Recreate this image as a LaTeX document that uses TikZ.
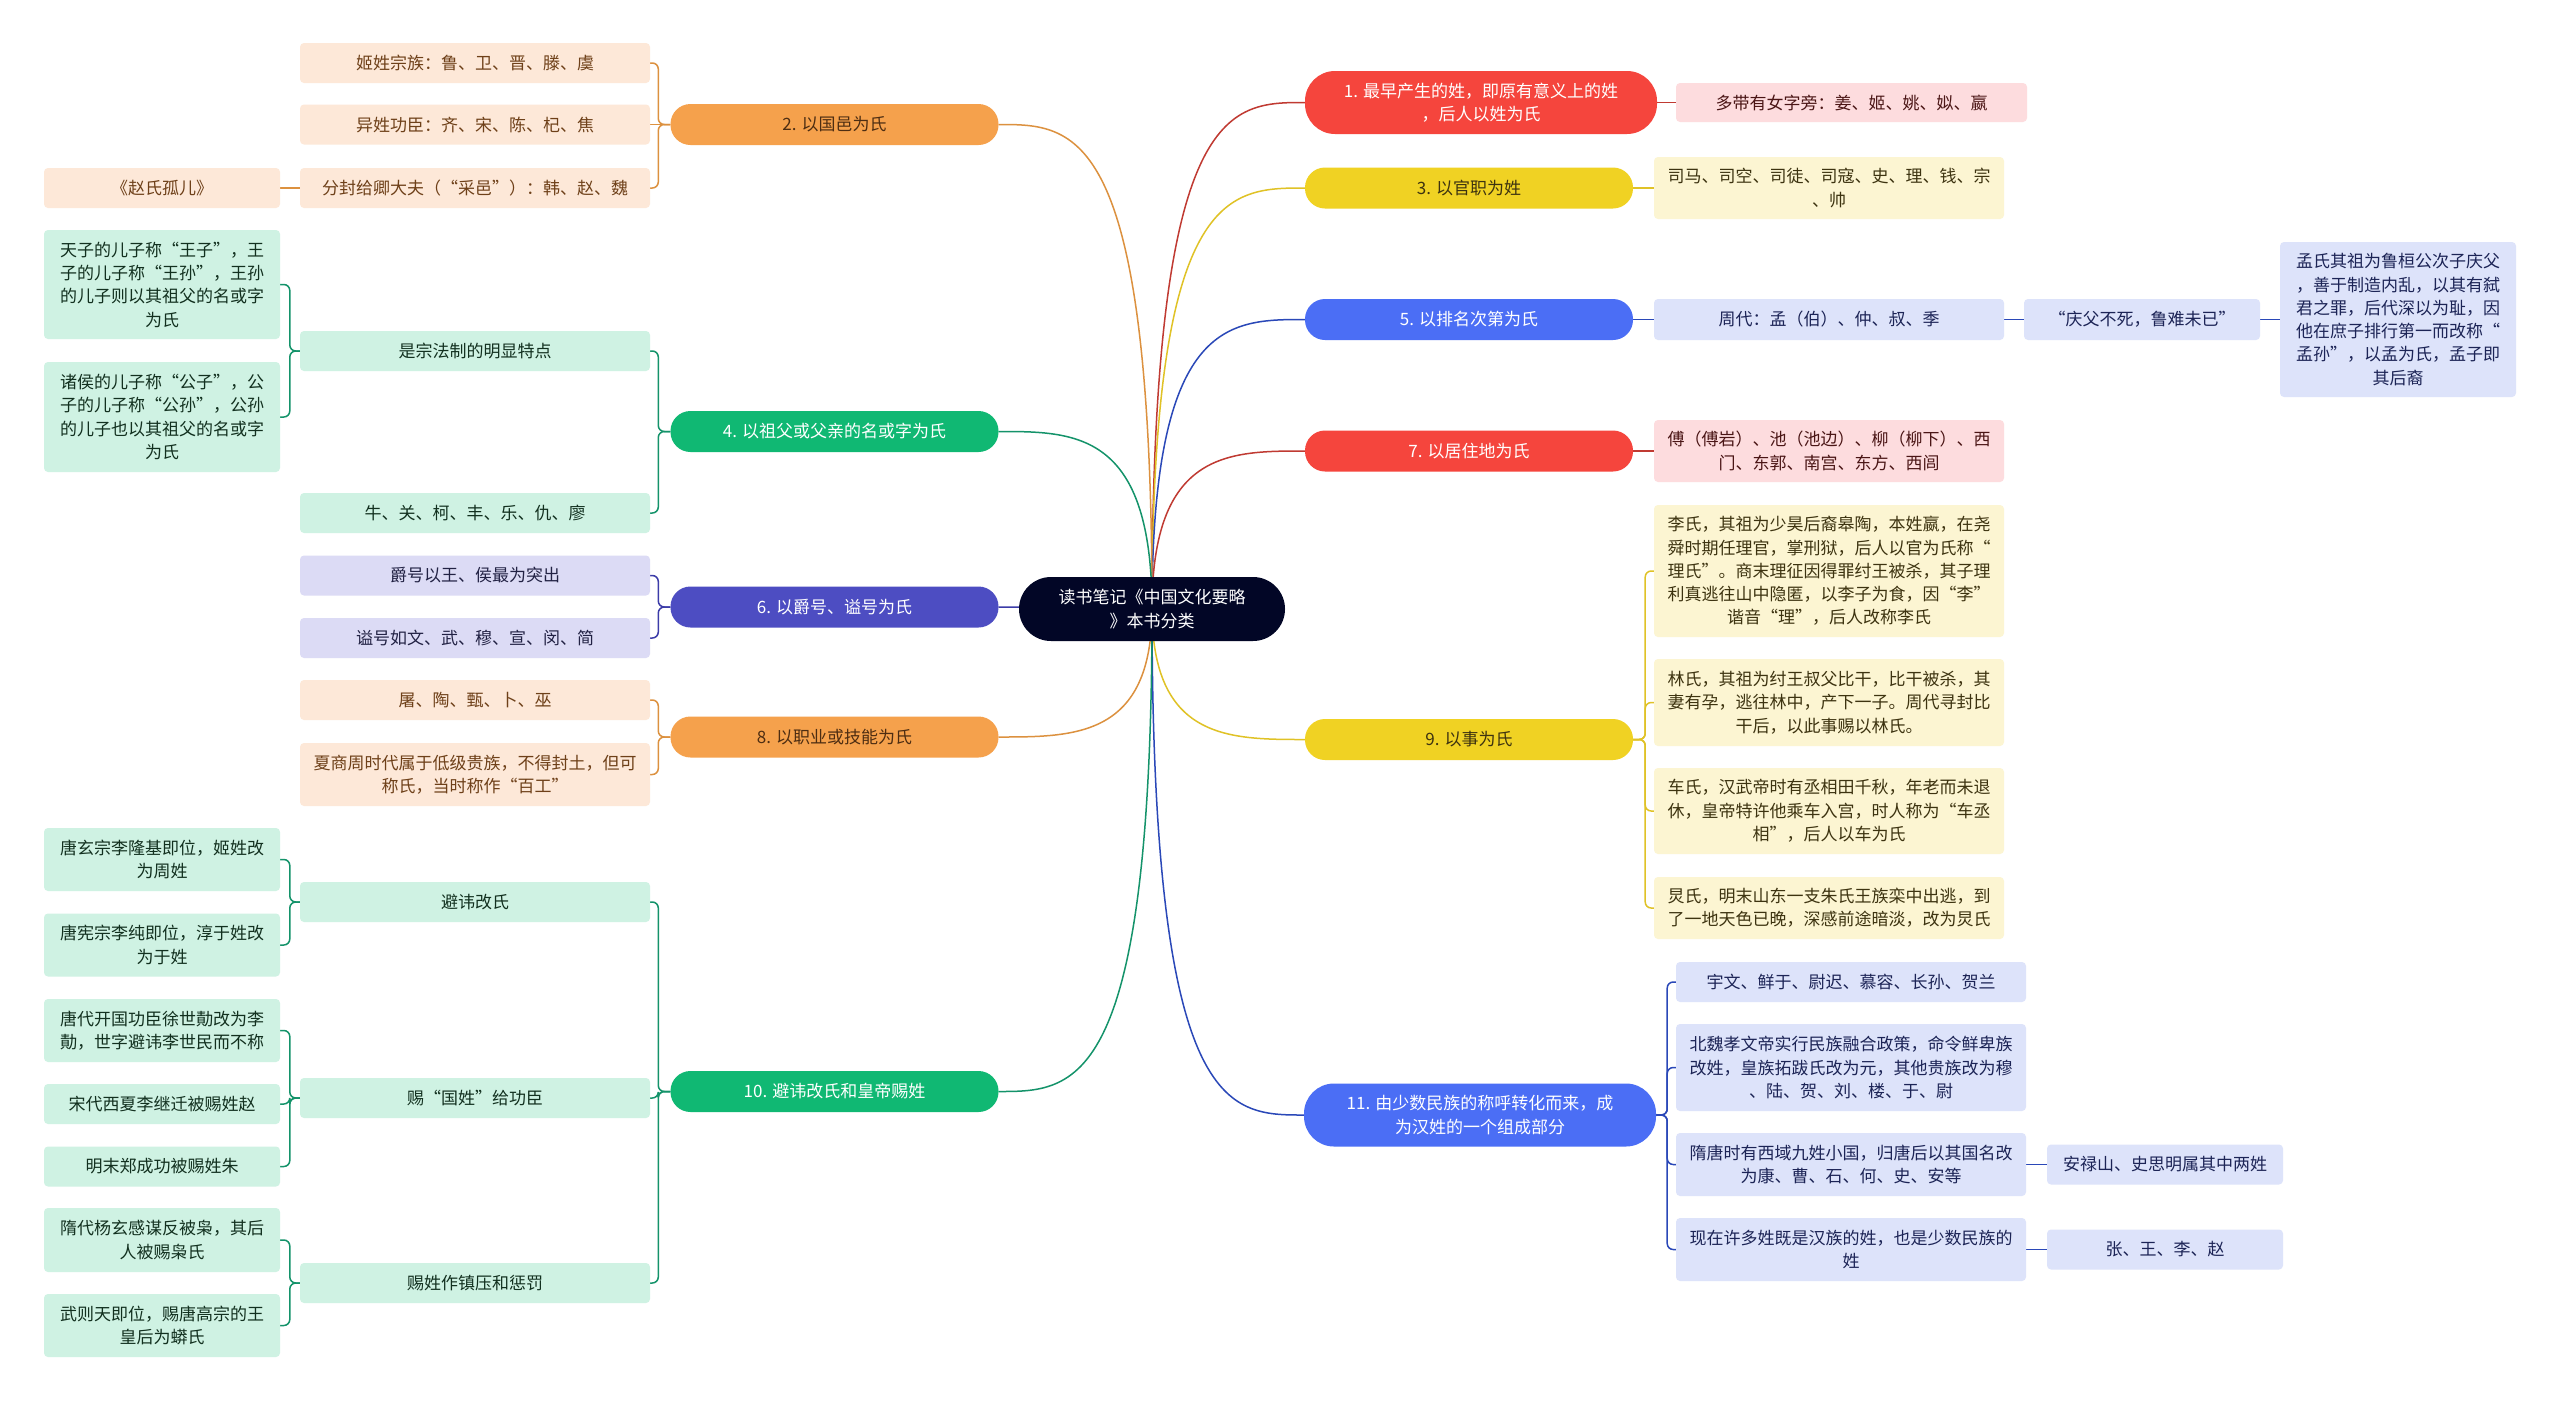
\documentclass[tikz,border=0pt]{standalone}
\usepackage{fontspec}
\setmainfont{Noto Sans CJK SC}
\usetikzlibrary{calc,backgrounds}
\newcommand\fs{\fontsize{17}{23.3}\selectfont}
\definecolor{rootc}{HTML}{020626}
\definecolor{redc}{HTML}{F5453D}\definecolor{redl}{HTML}{FDDCDE}\definecolor{redt}{HTML}{4A1515}\definecolor{redln}{HTML}{C03A32}
\definecolor{yelc}{HTML}{F0D223}\definecolor{yell}{HTML}{FCF5D2}\definecolor{yelt}{HTML}{3D3310}\definecolor{yelln}{HTML}{E0C226}
\definecolor{bluc}{HTML}{4B6EF5}\definecolor{blul}{HTML}{DDE3FA}\definecolor{blut}{HTML}{1C2456}\definecolor{bluln}{HTML}{2A48B8}
\definecolor{orac}{HTML}{F5A14C}\definecolor{oral}{HTML}{FDE8D8}\definecolor{orat}{HTML}{6E4019}\definecolor{oraln}{HTML}{DC913F}
\definecolor{grec}{HTML}{10B873}\definecolor{grel}{HTML}{CFF2E3}\definecolor{gret}{HTML}{12301F}\definecolor{greln}{HTML}{14936A}
\definecolor{indc}{HTML}{4D4DC2}\definecolor{indl}{HTML}{DCDBF5}\definecolor{indt}{HTML}{222244}\definecolor{indln}{HTML}{3C3CA8}
\newcommand\rcurve[3]{\draw[#1, line width=1.5pt] (root.center) .. controls (root.center |- #2.#3) and ($(root.center |- #2.#3)!0.5!(#2.#3)$) .. (#2.#3);}
\newcommand\bR[4]{\draw[#1, line width=1.5pt, rounded corners=6pt] (#2.east) -- ++(#4,0) |- (#3.west);}
\newcommand\bL[4]{\draw[#1, line width=1.5pt, rounded corners=6pt] (#2.west) -- ++(-#4,0) |- (#3.east);}
\newcommand\sR[3]{\draw[#1, line width=1.5pt] (#2.east) -- (#3.west);}
\newcommand\sL[3]{\draw[#1, line width=1.5pt] (#2.west) -- (#3.east);}
\begin{document}
\begin{tikzpicture}[x=1pt,y=-1pt,
  every node/.style={inner sep=0pt, align=center, font=\fs},
  lone/.style={rounded corners=20pt, minimum width=328pt, minimum height=41pt},
  lonew/.style={rounded corners=30pt, minimum width=352pt, minimum height=63pt},
  bx/.style={rounded corners=4pt, minimum width=350pt},
  sbx/.style={rounded corners=4pt, minimum width=236pt},
  ]
\useasboundingbox (0,0) rectangle (2560,1401);

% root
\node[fill=rootc, text=white, rounded corners=32pt, minimum width=266pt, minimum height=64pt] (root) at (1152,609) {读书笔记《中国文化要略\\》本书分类};

% right level 1
\node[lonew, fill=redc, text=white] (n1) at (1481,102.5) {1. 最早产生的姓，即原有意义上的姓\\，后人以姓为氏};
\node[lone, fill=yelc, text=yelt] (n3) at (1469,188) {3. 以官职为姓};
\node[lone, fill=bluc, text=white] (n5) at (1469,319.5) {5. 以排名次第为氏};
\node[lone, fill=redc, text=white] (n7) at (1469,451) {7. 以居住地为氏};
\node[lone, fill=yelc, text=yelt] (n9) at (1469,739.5) {9. 以事为氏};
\node[lonew, fill=bluc, text=white] (n11) at (1480,1115) {11. 由少数民族的称呼转化而来，成\\为汉姓的一个组成部分};

% left level 1
\node[lone, fill=orac, text=orat!70!black] (n2) at (834.5,124.5) {2. 以国邑为氏};
\node[lone, fill=grec, text=white] (n4) at (834.5,431.5) {4. 以祖父或父亲的名或字为氏};
\node[lone, fill=indc, text=white] (n6) at (834.5,607) {6. 以爵号、谥号为氏};
\node[lone, fill=orac, text=orat!70!black] (n8) at (834.5,737) {8. 以职业或技能为氏};
\node[lone, fill=grec, text=white] (n10) at (834.5,1091.5) {10. 避讳改氏和皇帝赐姓};

% right level 2
\node[bx, fill=redl, text=redt, minimum width=351pt, minimum height=39pt] (r1) at (1851.5,102.5) {多带有女字旁：姜、姬、姚、姒、嬴};
\node[bx, fill=yell, text=yelt, minimum height=62pt] (r3) at (1829,188) {司马、司空、司徒、司寇、史、理、钱、宗\\、帅};
\node[bx, fill=blul, text=blut, minimum height=41pt] (r5) at (1829,319.5) {周代：孟（伯）、仲、叔、季};
\node[sbx, fill=blul, text=blut, minimum height=41pt] (r5b) at (2142,319.5) {“庆父不死，鲁难未已”};
\node[sbx, fill=blul, text=blut, minimum height=155pt] (r5c) at (2398,319.5) {孟氏其祖为鲁桓公次子庆父\\，善于制造内乱，以其有弑\\君之罪，后代深以为耻，因\\他在庶子排行第一而改称“\\孟孙”，以孟为氏，孟子即\\其后裔};
\node[bx, fill=redl, text=redt, minimum height=62pt] (r7) at (1829,451) {傅（傅岩）、池（池边）、柳（柳下）、西\\门、东郭、南宫、东方、西闾};
\node[bx, fill=yell, text=yelt, minimum height=132pt] (r9a) at (1829,571) {李氏，其祖为少昊后裔皋陶，本姓嬴，在尧\\舜时期任理官，掌刑狱，后人以官为氏称“\\理氏”。商末理征因得罪纣王被杀，其子理\\利真逃往山中隐匿，以李子为食，因“李”\\谐音“理”，后人改称李氏};
\node[bx, fill=yell, text=yelt, minimum height=87pt] (r9b) at (1829,702.5) {林氏，其祖为纣王叔父比干，比干被杀，其\\妻有孕，逃往林中，产下一子。周代寻封比\\干后，以此事赐以林氏。};
\node[bx, fill=yell, text=yelt, minimum height=86pt] (r9c) at (1829,811) {车氏，汉武帝时有丞相田千秋，年老而未退\\休，皇帝特许他乘车入宫，时人称为“车丞\\相”，后人以车为氏};
\node[bx, fill=yell, text=yelt, minimum height=62pt] (r9d) at (1829,908) {炅氏，明末山东一支朱氏王族栾中出逃，到\\了一地天色已晚，深感前途暗淡，改为炅氏};
\node[bx, fill=blul, text=blut, minimum height=40pt] (r11a) at (1851,982) {宇文、鲜于、尉迟、慕容、长孙、贺兰};
\node[bx, fill=blul, text=blut, minimum height=87pt] (r11b) at (1851,1067.5) {北魏孝文帝实行民族融合政策，命令鲜卑族\\改姓，皇族拓跋氏改为元，其他贵族改为穆\\、陆、贺、刘、楼、于、尉};
\node[bx, fill=blul, text=blut, minimum height=63pt] (r11c) at (1851,1164.5) {隋唐时有西域九姓小国，归唐后以其国名改\\为康、曹、石、何、史、安等};
\node[sbx, fill=blul, text=blut, minimum height=40pt] (r11c1) at (2165,1164.5) {安禄山、史思明属其中两姓};
\node[bx, fill=blul, text=blut, minimum height=63pt] (r11d) at (1851,1249.5) {现在许多姓既是汉族的姓，也是少数民族的\\姓};
\node[sbx, fill=blul, text=blut, minimum height=40pt] (r11d1) at (2165,1249.5) {张、王、李、赵};

% left level 2 / 3
\node[bx, fill=oral, text=orat, minimum height=40pt] (l2a) at (475,63) {姬姓宗族：鲁、卫、晋、滕、虞};
\node[bx, fill=oral, text=orat, minimum height=40pt] (l2b) at (475,124.5) {异姓功臣：齐、宋、陈、杞、焦};
\node[bx, fill=oral, text=orat, minimum height=40pt] (l2c) at (475,188) {分封给卿大夫（“采邑”）：韩、赵、魏};
\node[sbx, fill=oral, text=orat, minimum height=40pt] (l2c1) at (162,188) {《赵氏孤儿》};

\node[bx, fill=grel, text=gret, minimum height=40pt] (l4a) at (475,351) {是宗法制的明显特点};
\node[sbx, fill=grel, text=gret, minimum height=109pt] (l4a1) at (162,284.5) {天子的儿子称“王子”，王\\子的儿子称“王孙”，王孙\\的儿子则以其祖父的名或字\\为氏};
\node[sbx, fill=grel, text=gret, minimum height=110pt] (l4a2) at (162,417) {诸侯的儿子称“公子”，公\\子的儿子称“公孙”，公孙\\的儿子也以其祖父的名或字\\为氏};
\node[bx, fill=grel, text=gret, minimum height=40pt] (l4b) at (475,513) {牛、关、柯、丰、乐、仇、廖};

\node[bx, fill=indl, text=indt, minimum height=40pt] (l6a) at (475,575.5) {爵号以王、侯最为突出};
\node[bx, fill=indl, text=indt, minimum height=40pt] (l6b) at (475,638) {谥号如文、武、穆、宣、闵、简};

\node[bx, fill=oral, text=orat, minimum height=40pt] (l8a) at (475,700) {屠、陶、甄、卜、巫};
\node[bx, fill=oral, text=orat, minimum height=63pt] (l8b) at (475,774.5) {夏商周时代属于低级贵族，不得封土，但可\\称氏，当时称作“百工”};

\node[bx, fill=grel, text=gret, minimum height=40pt] (l10a) at (475,902) {避讳改氏};
\node[sbx, fill=grel, text=gret, minimum height=63pt] (l10a1) at (162,859.5) {唐玄宗李隆基即位，姬姓改\\为周姓};
\node[sbx, fill=grel, text=gret, minimum height=63pt] (l10a2) at (162,945) {唐宪宗李纯即位，淳于姓改\\为于姓};
\node[bx, fill=grel, text=gret, minimum height=40pt] (l10b) at (475,1098) {赐“国姓”给功臣};
\node[sbx, fill=grel, text=gret, minimum height=63pt] (l10b1) at (162,1030.5) {唐代开国功臣徐世勣改为李\\勣，世字避讳李世民而不称};
\node[sbx, fill=grel, text=gret, minimum height=40pt] (l10b2) at (162,1104) {宋代西夏李继迁被赐姓赵};
\node[sbx, fill=grel, text=gret, minimum height=40pt] (l10b3) at (162,1166.5) {明末郑成功被赐姓朱};
\node[bx, fill=grel, text=gret, minimum height=40pt] (l10c) at (475,1283) {赐姓作镇压和惩罚};
\node[sbx, fill=grel, text=gret, minimum height=64pt] (l10c1) at (162,1240) {隋代杨玄感谋反被枭，其后\\人被赐枭氏};
\node[sbx, fill=grel, text=gret, minimum height=63pt] (l10c2) at (162,1325.5) {武则天即位，赐唐高宗的王\\皇后为蟒氏};

\begin{scope}[on background layer]
\fill[white] (0,0) rectangle (2560,1401);
% root curves
\rcurve{redln}{n1}{west}
\rcurve{yelln}{n3}{west}
\rcurve{bluln}{n5}{west}
\rcurve{redln}{n7}{west}
\rcurve{yelln}{n9}{west}
\rcurve{bluln}{n11}{west}
\rcurve{oraln}{n2}{east}
\rcurve{greln}{n4}{east}
\rcurve{indln}{n6}{east}
\rcurve{oraln}{n8}{east}
\rcurve{greln}{n10}{east}
% right
\sR{redln}{n1}{r1}
\sR{yelln}{n3}{r3}
\sR{bluln}{n5}{r5}
\sR{bluln}{r5}{r5b}
\sR{bluln}{r5b}{r5c}
\sR{redln}{n7}{r7}
\bR{yelln}{n9}{r9a}{12}
\bR{yelln}{n9}{r9b}{12}
\bR{yelln}{n9}{r9c}{12}
\bR{yelln}{n9}{r9d}{12}
\bR{bluln}{n11}{r11a}{11}
\bR{bluln}{n11}{r11b}{11}
\bR{bluln}{n11}{r11c}{11}
\bR{bluln}{n11}{r11d}{11}
\sR{bluln}{r11c}{r11c1}
\sR{bluln}{r11d}{r11d1}
% left
\bL{oraln}{n2}{l2a}{12}
\sL{oraln}{n2}{l2b}
\bL{oraln}{n2}{l2c}{12}
\sL{oraln}{l2c}{l2c1}
\bL{greln}{n4}{l4a}{12}
\bL{greln}{n4}{l4b}{12}
\bL{greln}{l4a}{l4a1}{10}
\bL{greln}{l4a}{l4a2}{10}
\bL{indln}{n6}{l6a}{12}
\bL{indln}{n6}{l6b}{12}
\bL{oraln}{n8}{l8a}{12}
\bL{oraln}{n8}{l8b}{12}
\bL{greln}{n10}{l10a}{12}
\bL{greln}{n10}{l10b}{12}
\bL{greln}{n10}{l10c}{12}
\bL{greln}{l10a}{l10a1}{10}
\bL{greln}{l10a}{l10a2}{10}
\bL{greln}{l10b}{l10b1}{10}
\bL{greln}{l10b}{l10b2}{10}
\bL{greln}{l10b}{l10b3}{10}
\bL{greln}{l10c}{l10c1}{10}
\bL{greln}{l10c}{l10c2}{10}
\end{scope}
\end{tikzpicture}
\end{document}
